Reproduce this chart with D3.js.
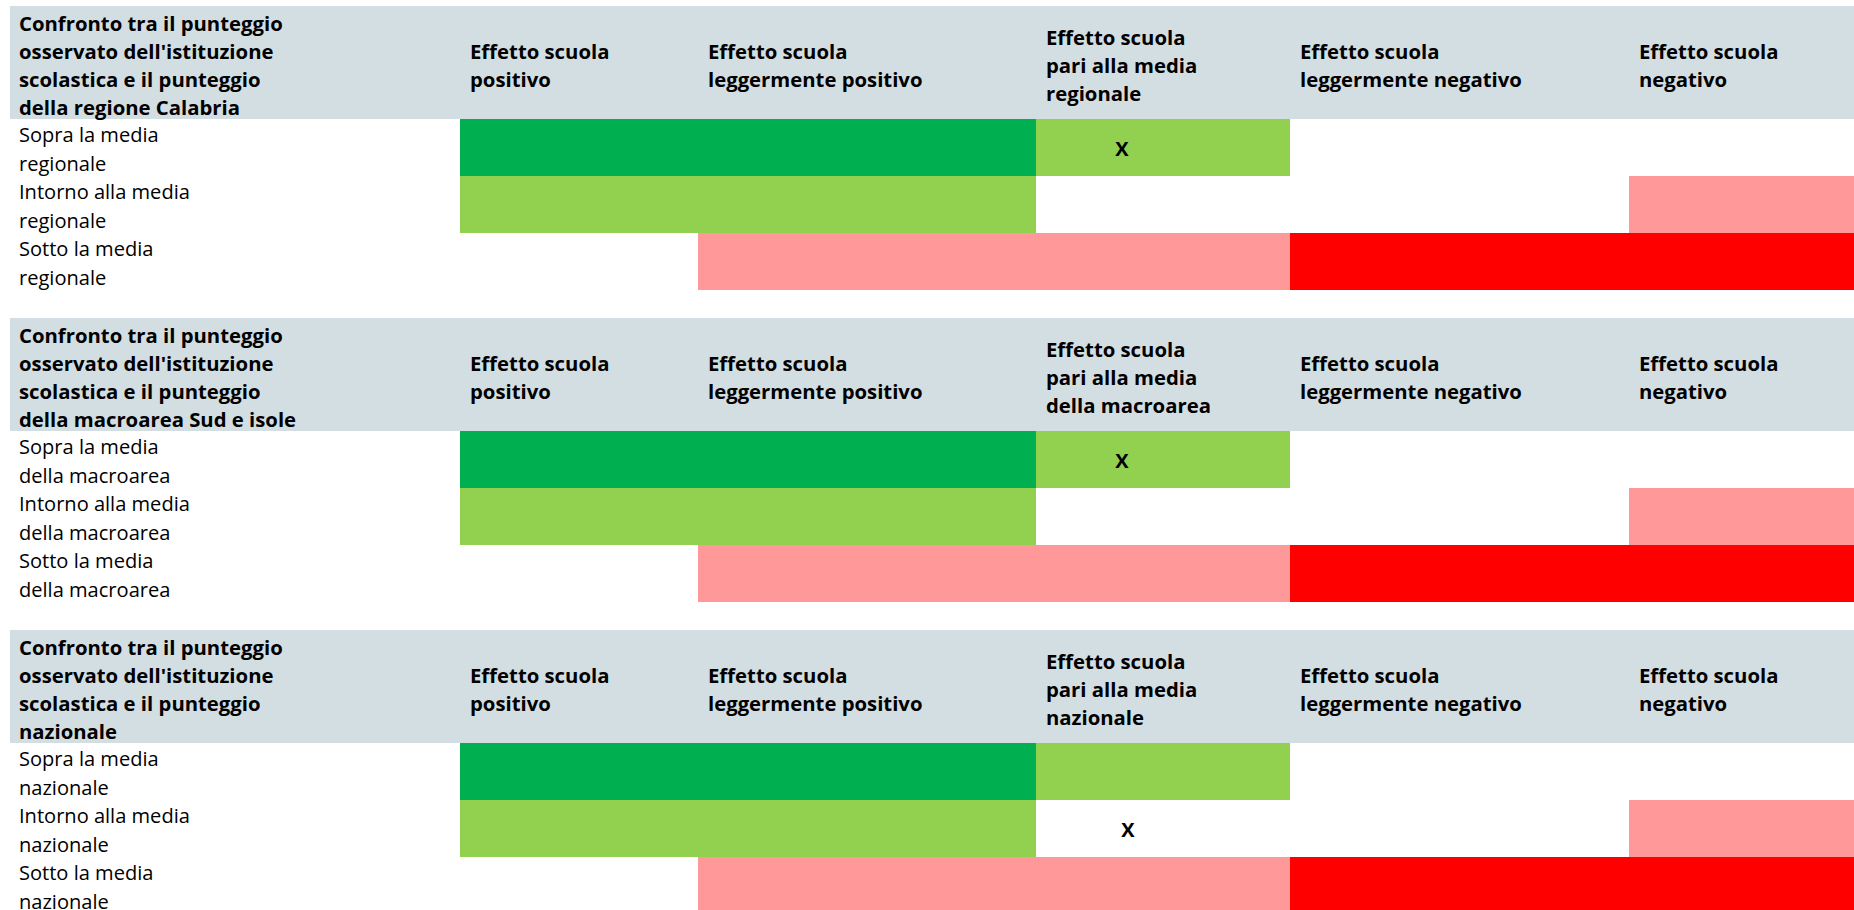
<!DOCTYPE html>
<html>
<head>
<meta charset="utf-8">
<script src="https://cdn.jsdelivr.net/npm/d3@7/dist/d3.min.js"></script>
<style>
  html, body { margin: 0; padding: 0; background: #ffffff; }
  svg { display: block; }
  text { font-family: "Open Sans", "Noto Sans", sans-serif; fill: #000; }
</style>
</head>
<body>
<svg id="chart" width="1854" height="910"></svg>
<script>
// ---------------- DATA ----------------
const sectionTitles = [
  ["Confronto tra il punteggio", "osservato dell'istituzione", "scolastica e il punteggio", "della regione Calabria"],
  ["Confronto tra il punteggio", "osservato dell'istituzione", "scolastica e il punteggio", "della macroarea Sud e isole"],
  ["Confronto tra il punteggio", "osservato dell'istituzione", "scolastica e il punteggio", "nazionale"]
];
const columnHeaders = [
  [["Effetto scuola", "positivo"], ["Effetto scuola", "leggermente positivo"], ["Effetto scuola", "pari alla media", "regionale"], ["Effetto scuola", "leggermente negativo"], ["Effetto scuola", "negativo"]],
  [["Effetto scuola", "positivo"], ["Effetto scuola", "leggermente positivo"], ["Effetto scuola", "pari alla media", "della macroarea"], ["Effetto scuola", "leggermente negativo"], ["Effetto scuola", "negativo"]],
  [["Effetto scuola", "positivo"], ["Effetto scuola", "leggermente positivo"], ["Effetto scuola", "pari alla media", "nazionale"], ["Effetto scuola", "leggermente negativo"], ["Effetto scuola", "negativo"]]
];
const rowLabels = [
  [["Sopra la media", "regionale"], ["Intorno alla media", "regionale"], ["Sotto la media", "regionale"]],
  [["Sopra la media", "della macroarea"], ["Intorno alla media", "della macroarea"], ["Sotto la media", "della macroarea"]],
  [["Sopra la media", "nazionale"], ["Intorno alla media", "nazionale"], ["Sotto la media", "nazionale"]]
];
// cell categories per row (same grid in every section)
const cellCategories = [
  ["forte+", "forte+", "lieve+", "", ""],
  ["lieve+", "lieve+", "", "", "lieve-"],
  ["", "lieve-", "lieve-", "forte-", "forte-"]
];
// position of the "X" mark in each section: [row, column]
const marks = [[0, 2], [0, 2], [1, 2]];
const categoryNames = ["forte+", "lieve+", "lieve-", "forte-"];
const categoryColors = ["#00B050", "#92D050", "#FF9999", "#FF0000"];

// ---------------- LAYOUT ----------------
const W = 1854, H = 910;
const colEdges = [460, 698, 1036, 1290, 1629, 1854];
const sectionStep = 312, firstTop = 6, headerH = 113, rowH = 57;
const headerLeft = 10, labelX = 19, textPad = 10;
const markX = [1122, 1122, 1128];

const svg = d3.select("#chart");
const color = d3.scaleOrdinal().domain(categoryNames).range(categoryColors);
const colX = d3.scaleOrdinal().domain(d3.range(5)).range(colEdges.slice(0, 5));
const colW = i => colEdges[i + 1] - colEdges[i];
const rowY = d3.scaleBand().domain(d3.range(3)).range([0, 3 * rowH]).padding(0);

const boldTexts = [], regTexts = [];

sectionTitles.forEach((title, s) => {
  const top = firstTop + s * sectionStep;
  const g = svg.append("g").attr("transform", `translate(0,${top})`);

  // header band
  g.append("rect").attr("x", headerLeft).attr("y", 0)
    .attr("width", W - headerLeft).attr("height", headerH).attr("fill", "#D3DEE3");

  const hdrCenter = 58.5, hdrLine = 28;
  const addLines = (lines, x, cy, lh, weight, store) => {
    const t = g.append("text").attr("x", x).attr("font-weight", weight);
    lines.forEach((ln, i) => {
      t.append("tspan").attr("x", x)
        .attr("y", cy + (i - (lines.length - 1) / 2) * lh)
        .attr("dominant-baseline", "central")
        .text(ln);
    });
    store.push(t);
    return t;
  };

  addLines(title, labelX, hdrCenter, hdrLine, "bold", boldTexts);
  columnHeaders[s].forEach((lines, c) => {
    addLines(lines, colX(c) + textPad, hdrCenter, hdrLine, "bold", boldTexts);
  });

  // body
  const body = g.append("g").attr("transform", `translate(0,${headerH})`);
  const cells = [];
  cellCategories.forEach((row, r) => row.forEach((cat, c) => { if (cat) cells.push({ r, c, cat }); }));
  body.selectAll("rect.cell").data(cells).join("rect")
    .attr("class", "cell")
    .attr("x", d => colX(d.c))
    .attr("y", d => rowY(d.r))
    .attr("width", d => colW(d.c))
    .attr("height", rowY.bandwidth())
    .attr("fill", d => color(d.cat))
    .attr("shape-rendering", "crispEdges");

  rowLabels[s].forEach((lines, r) => {
    const t = body.append("text").attr("x", labelX);
    lines.forEach((ln, i) => {
      t.append("tspan").attr("x", labelX)
        .attr("y", rowY(r) + 30 + (i - 0.5) * 28.5)
        .attr("dominant-baseline", "central")
        .text(ln);
    });
    regTexts.push(t);
  });

  const [mr, mc] = marks[s];
  body.append("text")
    .attr("x", markX[s]).attr("y", rowY(mr) + rowY.bandwidth() / 2 + 1)
    .attr("text-anchor", "middle").attr("dominant-baseline", "central")
    .attr("font-weight", "bold").attr("font-size", 20)
    .text("X");
});

// fit font sizes to the reference text widths
function fit(store, sample, target) {
  store.forEach(t => t.attr("font-size", 20));
  const node = svg.selectAll("tspan").filter(function () {
    return this.textContent === sample && store.some(t => t.node() === this.parentNode);
  }).node();
  const w = node.getComputedTextLength();
  const fs = 20 * target / w;
  store.forEach(t => t.attr("font-size", fs));
}
fit(boldTexts, "Confronto tra il punteggio", 264);
fit(regTexts, "Intorno alla media", 171);
</script>
</body>
</html>
